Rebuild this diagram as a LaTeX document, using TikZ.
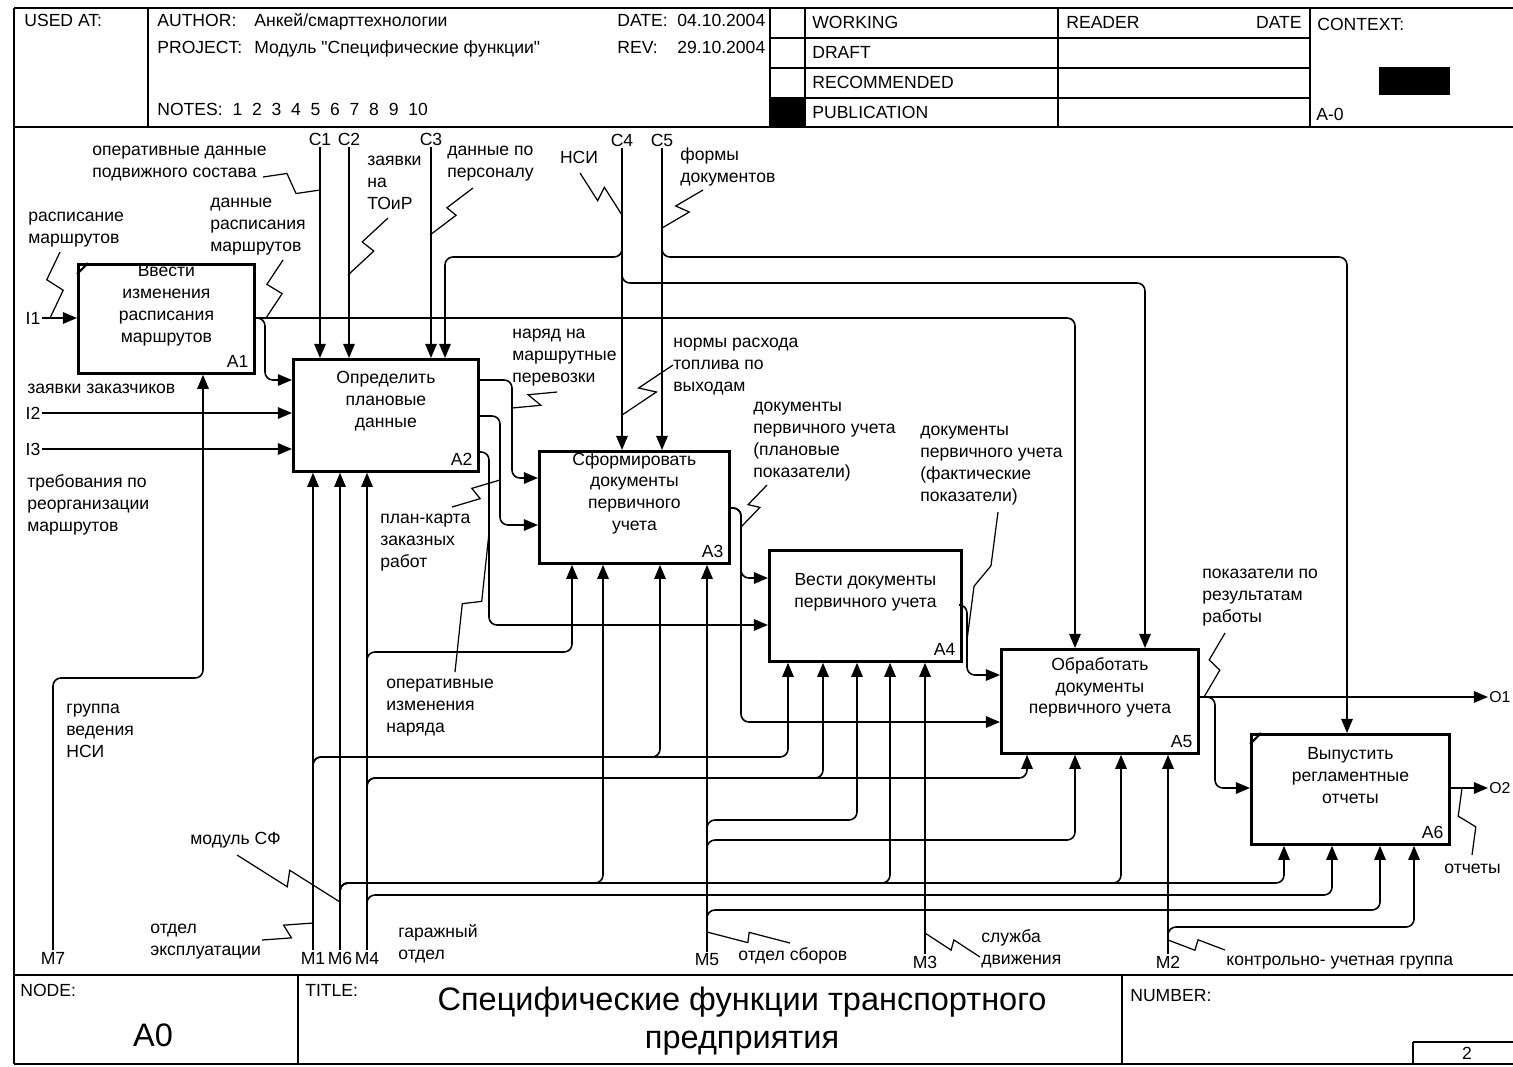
\documentclass[tikz,border=0pt]{standalone}
\usepackage{fontspec}
\setmainfont{Liberation Sans}
\usetikzlibrary{arrows.meta,calc}

\newcommand{\zz}[3]{\draw[zig] (#1) -- ($(#1)!0.42!(#2)+(#3)$) -- ($(#1)!0.58!(#2)-(#3)$) -- (#2);}

\begin{document}
\begin{tikzpicture}[
    x=0.02cm, y=-0.02cm,
    font=\fontsize{10}{12.5}\selectfont,
    frameline/.style={line width=1.1pt},
    box/.style={draw, line width=1.6pt, inner sep=0pt, anchor=north west},
    boxtext/.style={align=center, inner sep=0pt},
    boxnum/.style={anchor=south east, inner sep=4pt},
    arr/.style={-{Triangle[length=8pt,width=6.5pt]}, line width=0.9pt, rounded corners=4.5pt},
    lbl/.style={align=left, anchor=north west, inner sep=0pt},
    one/.style={anchor=base west, inner sep=0pt},
    tun/.style={inner sep=1pt},
    zig/.style={line width=0.7pt},
    big/.style={font=\fontsize{18.5}{21.6}\selectfont}
]
\useasboundingbox (0,0) rectangle (1513,1066);

% form
\draw[frameline] (14,8) -- (1513,8);
\draw[frameline] (14,8) -- (14,1064);
\draw[frameline] (14,127) -- (1513,127);
\draw[frameline] (14,975) -- (1513,975);
\draw[frameline] (14,1064) -- (1513,1064);
\foreach \xx in {148,770,805,1058,1310}
    \draw[frameline] (\xx,8) -- (\xx,127);
\foreach \yy in {38,68,98}
    \draw[frameline] (770,\yy) -- (1310,\yy);
\draw[frameline] (298,975) -- (298,1064);
\draw[frameline] (1122,975) -- (1122,1064);
\draw[frameline] (1413,1042) -- (1513,1042);
\draw[frameline] (1413,1042) -- (1413,1064);
\fill (770,98) rectangle (805,127);
\fill (1379,67) rectangle (1450,95);

\node[one] (usedat) at (24,26) {USED AT:};
\node[one] (author) at (157,26) {AUTHOR:};
\node[one] (authorv) at (254,26) {Анкей/смарттехнологии};
\node[one] (project) at (157,53) {PROJECT:};
\node[one] (projectv) at (254,53) {Модуль \textquotedbl Специфические функции\textquotedbl};
\node[one] (notes) at (157,115) {NOTES:\ \ 1\ \ 2\ \ 3\ \ 4\ \ 5\ \ 6\ \ 7\ \ 8\ \ 9\ \ 10};
\node[one] (date) at (617,26) {DATE:};
\node[one] (datev) at (677,26) {04.10.2004};
\node[one] (rev) at (617,53) {REV:};
\node[one] (revv) at (677,53) {29.10.2004};
\node[one] (working) at (812,28) {WORKING};
\node[one] (draft) at (812,58) {DRAFT};
\node[one] (recommended) at (812,88) {RECOMMENDED};
\node[one] (publication) at (812,118) {PUBLICATION};
\node[one] (reader) at (1066,28) {READER};
\node[one, anchor=base east] (rdate) at (1302,28) {DATE};
\node[one] (context) at (1317,30) {CONTEXT:};
\node[one] (ctxnode) at (1316,120) {A-0};
\node[one] (nodelbl) at (20,996) {NODE:};
\node[one] (titlelbl) at (305,996) {TITLE:};
\node[one] (numberlbl) at (1130,1001) {NUMBER:};
\node[big] (nodeno) at (153,1035) {A0};
\node[big, align=center] (title) at (742,1021) {Специфические функции транспортного\\предприятия};
\node (pageno) at (1467,1053) {2};

% activity boxes
\node[box, minimum width=3.52cm, minimum height=2.18cm] (a1) at (77,263) {};
\node[box, minimum width=3.70cm, minimum height=2.24cm] (a2) at (292,358) {};
\node[box, minimum width=3.80cm, minimum height=2.24cm] (a3) at (538,450) {};
\node[box, minimum width=3.84cm, minimum height=2.22cm] (a4) at (768,549) {};
\node[box, minimum width=3.94cm, minimum height=2.08cm] (a5) at (1000,648) {};
\node[box, minimum width=3.96cm, minimum height=2.20cm] (a6) at (1250,733) {};

\node[boxtext] (a1t) at ([yshift=0.28cm]a1.center) {Ввести\\изменения\\расписания\\маршрутов};
\node[boxtext] (a2t) at ([yshift=0.28cm]a2.center) {Определить\\плановые\\данные};
\node[boxtext] (a3t) at ([yshift=0.28cm]a3.center) {Сформировать\\документы\\первичного\\учета};
\node[boxtext] (a4t) at ([yshift=0.28cm]a4.center) {Вести документы\\первичного учета};
\node[boxtext] (a5t) at ([yshift=0.28cm]a5.center) {Обработать\\документы\\первичного учета};
\node[boxtext] (a6t) at ([yshift=0.28cm]a6.center) {Выпустить\\регламентные\\отчеты};

\node[boxnum] (a1n) at (a1.south east) {A1};
\node[boxnum] (a2n) at (a2.south east) {A2};
\node[boxnum] (a3n) at (a3.south east) {A3};
\node[boxnum] (a4n) at (a4.south east) {A4};
\node[boxnum] (a5n) at (a5.south east) {A5};
\node[boxnum] (a6n) at (a6.south east) {A6};

\draw[line width=1.2pt] ([yshift=-0.22cm]a1.north west) -- ([xshift=0.22cm]a1.north west);
\draw[line width=1.2pt] ([yshift=-0.22cm]a6.north west) -- ([xshift=0.22cm]a6.north west);

% tunnel labels
\node[tun] (c1) at (320,139) {C1};
\node[tun] (c2) at (349,139) {C2};
\node[tun] (c3) at (431,139) {C3};
\node[tun] (c4) at (622,140) {C4};
\node[tun] (c5) at (662,140) {C5};
\node[tun] (i1) at (33,318) {I1};
\node[tun] (i2) at (33,413) {I2};
\node[tun] (i3) at (33,449) {I3};
\node[tun, anchor=west, inner sep=0.5pt, font=\fontsize{9}{11}\selectfont] (o1) at (1488,697) {O1};
\node[tun, anchor=west, inner sep=0.5pt, font=\fontsize{9}{11}\selectfont] (o2) at (1488,788) {O2};
\node[tun] (m7) at (53,958) {M7};
\node[tun] (m1) at (313,958) {M1};
\node[tun] (m6) at (340,958) {M6};
\node[tun] (m4) at (367,958) {M4};
\node[tun] (m5) at (707,960) {M5};
\node[tun] (m3) at (925,962) {M3};
\node[tun] (m2) at (1168,962) {M2};

% controls
\draw[arr] (c1) -- (c1 |- a2.north);
\draw[arr] (c2) -- (c2 |- a2.north);
\draw[arr] (c3) -- (c3 |- a2.north);
\draw[arr] (c4) -- (c4 |- a3.north);
\draw[arr] (c5) -- (c5 |- a3.north);
\draw[arr] (c4) |- (445,257) -- (a2.north -| 445,0);
\draw[arr] (c4) |- (1145,283) -- (a5.north -| 1145,0);
\draw[arr] (c5) |- (1347,257) -- (a6.north -| 1347,0);

% inputs
\draw[arr] (i1) -- (i1 -| a1.west);
\draw[arr] (i2) -- (i2 -| a2.west);
\draw[arr] (i3) -- (i3 -| a2.west);

% outputs
\draw[arr] (a1.east |- 0,318) -| (a5.north -| 1075,0);
\draw[arr] (a1.east |- 0,318) -| (265,380) -- (a2.west |- 0,380);
\draw[arr] (a2.east |- 0,380) -| (512,478) -- (a3.west |- 0,478);
\draw[arr] (a2.east |- 0,416) -| (500,525) -- (a3.west |- 0,525);
\draw[arr] (a2.east |- 0,452) -| (489,625) -- (a4.west |- 0,625);
\draw[arr] (a3.east |- 0,508) -| (741,578) -- (a4.west |- 0,578);
\draw[arr] (a3.east |- 0,508) -| (741,722) -- (a5.west |- 0,722);
\draw[arr] (a4.east |- 0,605) -| (967,675) -- (a5.west |- 0,675);
\draw[arr] (a5.east |- o1) -- (o1);
\draw[arr] (a5.east |- o1) -| (1215,788) -- (a6.west |- o2);
\draw[arr] (a6.east |- o2) -- (o2);

% mechanisms
\draw[arr] (m7) |- (203,678) -- (a1.south -| 203,0);
\draw[arr] (m1) -- (m1 |- a2.south);
\draw[arr] (m1) |- (660,757) -- (a3.south -| 660,0);
\draw[arr] (m1) |- (788,757) -- (a4.south -| 788,0);
\draw[arr] (m6) -- (m6 |- a2.south);
\draw[arr] (m6) |- (603,883) -- (a3.south -| 603,0);
\draw[arr] (m6) |- (890,883) -- (a4.south -| 890,0);
\draw[arr] (m6) |- (1121,883) -- (a5.south -| 1121,0);
\draw[arr] (m6) |- (1284,883) -- (a6.south -| 1284,0);
\draw[arr] (m4) -- (m4 |- a2.south);
\draw[arr] (m4) |- (572,652) -- (a3.south -| 572,0);
\draw[arr] (m4) |- (823,778) -- (a4.south -| 823,0);
\draw[arr] (m4) |- (1027,778) -- (a5.south -| 1027,0);
\draw[arr] (m4) |- (1332,895) -- (a6.south -| 1332,0);
\draw[arr] (m5) -- (m5 |- a3.south);
\draw[arr] (m5) |- (857,820) -- (a4.south -| 857,0);
\draw[arr] (m5) |- (1075,840) -- (a5.south -| 1075,0);
\draw[arr] (m5) |- (1380,910) -- (a6.south -| 1380,0);
\draw[arr] (m3) -- (m3 |- a4.south);
\draw[arr] (m2) -- (m2 |- a5.south);
\draw[arr] (m2) |- (1414,927) -- (a6.south -| 1414,0);

% arrow labels
\node[lbl] (opdata) at (92,140) {\strut оперативные данные\\подвижного состава};
\node[lbl] (toir) at (367,150) {\strut заявки\\на\\ТОиР};
\node[lbl] (staff) at (447,140) {\strut данные по\\персоналу};
\node[lbl] (sched) at (28,206) {\strut расписание\\маршрутов};
\node[lbl] (scheddata) at (210,192) {\strut данные\\расписания\\маршрутов};
\node (nsi) at (579,157) {НСИ};
\node[lbl] (forms) at (680,145) {\strut формы\\документов};
\node[lbl] (order) at (512,323) {\strut наряд на\\маршрутные\\перевозки};
\node[lbl] (fuel) at (673,332) {\strut нормы расхода\\топлива по\\выходам};
\node[lbl] (docplan) at (753,396) {\strut документы\\первичного учета\\(плановые\\показатели)};
\node[lbl] (docfact) at (920,420) {\strut документы\\первичного учета\\(фактические\\показатели)};
\node[lbl] (results) at (1202,563) {\strut показатели по\\результатам\\работы};
\node[one] (reports) at (1444,873) {отчеты};
\node[lbl] (plancard) at (380,508) {\strut план-карта\\заказных\\работ};
\node[lbl] (opchange) at (386,673) {\strut оперативные\\изменения\\наряда};
\node[one] (sfmodule) at (190,844) {модуль СФ};
\node[lbl] (opdept) at (150,918) {\strut отдел\\эксплуатации};
\node[lbl] (garage) at (398,922) {\strut гаражный\\отдел};
\node[one] (fees) at (738,960) {отдел сборов};
\node[lbl] (traffic) at (981,927) {\strut служба\\движения};
\node[one] (control) at (1226,965) {контрольно- учетная группа};
\node[lbl] (nsigroup) at (66,698) {\strut группа\\ведения\\НСИ};
\node[lbl] (reorg) at (27,472) {\strut требования по\\реорганизации\\маршрутов};
\node[one] (orders) at (27,393) {заявки заказчиков};

% squiggles
\zz{263,177}{320,190}{0,-9}
\zz{388,218}{348,275}{-9,0}
\zz{473,188}{430,235}{-8,0}
\zz{60,252}{50,318}{-9,0}
\zz{283,260}{266,318}{-9,0}
\zz{580,173}{622,215}{0,10}
\zz{703,190}{662,228}{-10,0}
\zz{557,392}{512,408}{-10,-4}
\zz{673,365}{622,415}{-13,2}
\zz{767,485}{741,527}{-8,2}
\zz{998,512}{967,640}{6,0}
\zz{1225,633}{1204,697}{-7,0}
\zz{1472,855}{1462,788}{8,0}
\zz{452,507}{500,480}{8,3}
\zz{455,672}{489,533}{-7,-10}
\zz{237,855}{340,902}{7,12}
\zz{262,940}{313,923}{8,5}
\zz{790,943}{707,932}{-6,-6}
\zz{980,957}{925,933}{-3,-7}
\zz{1225,950}{1168,940}{-3,-6}
\end{tikzpicture}
\end{document}
